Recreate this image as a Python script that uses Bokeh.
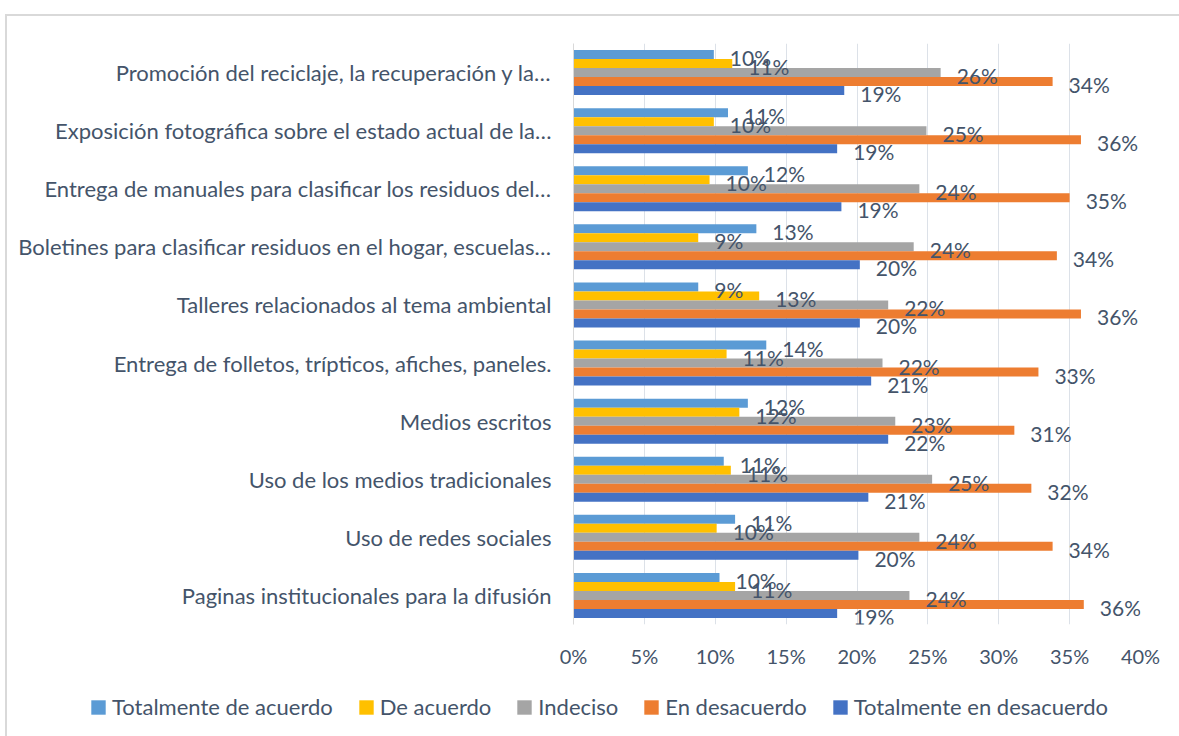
from bokeh.plotting import figure
from bokeh.layouts import column
from bokeh.models import (FactorRange, ColumnDataSource, FixedTicker, NumeralTickFormatter,
                          Legend, LegendItem)
from bokeh.transform import dodge
from bokeh.core.properties import value
from bokeh.embed import file_html
from bokeh.resources import INLINE

# Categories, top to bottom as shown
categories = [
    "Promoción del reciclaje, la recuperación y la…",
    "Exposición fotográfica sobre el estado actual de la…",
    "Entrega de manuales para clasificar los residuos del…",
    "Boletines para clasificar residuos en el hogar, escuelas…",
    "Talleres relacionados al tema ambiental",
    "Entrega de folletos, trípticos, afiches, paneles.",
    "Medios escritos",
    "Uso de los medios tradicionales",
    "Uso de redes sociales",
    "Paginas institucionales para la difusión",
]
series_names = ["Totalmente de acuerdo", "De acuerdo", "Indeciso",
                "En desacuerdo", "Totalmente en desacuerdo"]
totalmente_de_acuerdo = [0.099, 0.109, 0.123, 0.129, 0.088, 0.136, 0.123, 0.106, 0.114, 0.103]
de_acuerdo = [0.112, 0.099, 0.096, 0.088, 0.131, 0.108, 0.117, 0.111, 0.101, 0.114]
indeciso = [0.259, 0.249, 0.244, 0.240, 0.222, 0.218, 0.227, 0.253, 0.244, 0.237]
en_desacuerdo = [0.338, 0.358, 0.350, 0.341, 0.358, 0.328, 0.311, 0.323, 0.338, 0.360]
totalmente_en_desacuerdo = [0.191, 0.186, 0.189, 0.202, 0.202, 0.210, 0.222, 0.208, 0.201, 0.186]
x_ticks = [0, 0.05, 0.10, 0.15, 0.20, 0.25, 0.30, 0.35, 0.40]

series_values = [totalmente_de_acuerdo, de_acuerdo, indeciso, en_desacuerdo, totalmente_en_desacuerdo]
colors = ["#5B9BD5", "#FFC000", "#A5A5A5", "#ED7D31", "#4472C4"]
offsets = [0.31, 0.155, 0.0, -0.155, -0.31]

TXT = "#44546A"
FONT = "Lato"

p = figure(width=1172, height=664, output_backend="svg", toolbar_location=None,
           y_range=FactorRange(*list(reversed(categories)), range_padding=0),
           x_range=(0, 0.40),
           min_border_left=566, min_border_right=39, min_border_top=27, min_border_bottom=56)
p.frame_align = False
p.outline_line_color = None
p.background_fill_color = "white"
p.border_fill_color = "white"

src = ColumnDataSource(dict(cat=categories))
for name, vals in zip(series_names, series_values):
    src.data[name] = vals
    src.data[name + "_lbl"] = [f"{v*100:.0f}%" for v in vals]

for name, col, off in zip(series_names, colors, offsets):
    p.hbar(y=dodge("cat", off, range=p.y_range), right=name, left=0, height=0.155,
           source=src, fill_color=col, line_color=None)
for name, off in zip(series_names, offsets):
    p.text(x=name, y=dodge("cat", off, range=p.y_range), text=name + "_lbl", source=src,
           x_offset=16, y_offset=3, text_align="left", text_baseline="middle",
           text_font=value(FONT), text_font_size="21px", text_color=TXT)

# axes
p.xaxis.ticker = FixedTicker(ticks=x_ticks)
p.xaxis.formatter = NumeralTickFormatter(format="0%")
p.xaxis.axis_line_color = None
p.xaxis.major_tick_line_color = None
p.xaxis.minor_tick_line_color = None
p.xaxis.major_label_standoff = 13
p.xaxis.major_label_text_font = FONT
p.xaxis.major_label_text_font_size = "20px"
p.xaxis.major_label_text_color = TXT

p.yaxis.axis_line_color = "#D9D9D9"
p.yaxis.axis_line_width = 1
p.yaxis.major_tick_line_color = None
p.yaxis.minor_tick_line_color = None
p.yaxis.major_label_standoff = 16
p.yaxis.major_label_text_font = FONT
p.yaxis.major_label_text_font_size = "22px"
p.yaxis.major_label_text_color = TXT

p.xgrid.grid_line_color = "#DCE1E8"
p.xgrid.grid_line_width = 1
p.ygrid.grid_line_color = None

# legend strip below the chart
lg = figure(width=1172, height=56, output_backend="svg", toolbar_location=None,
            x_range=(0, 1), y_range=(0, 1), x_axis_type=None, y_axis_type=None,
            min_border=0)
lg.frame_align = False
lg.outline_line_color = None
lg.background_fill_color = "white"
lg.border_fill_color = "white"
lg.xgrid.grid_line_color = None
lg.ygrid.grid_line_color = None
items = []
for name, col in zip(series_names, colors):
    # placeholder bar kept outside the visible range; only its legend swatch is shown
    r = lg.hbar(y=[-5], right=[0.5], left=0.4, height=0.5, fill_color=col, line_color=None)
    items.append(LegendItem(label=name, renderers=[r]))
legend = Legend(items=items, orientation="horizontal", location=(82, 16),
                glyph_width=18, glyph_height=18, label_standoff=5, spacing=24,
                padding=0, margin=0, border_line_color=None, background_fill_alpha=0,
                label_text_font=FONT, label_text_font_size="22px", label_text_color=TXT,
                label_height=22)
lg.add_layout(legend, "center")

layout = column(p, lg, spacing=0,
                styles={"margin-left": "5px", "margin-top": "14px",
                        "border-left": "2px solid #D9D9D9", "border-top": "2px solid #D9D9D9"})

open("out.html", "w").write(file_html(layout, INLINE))
